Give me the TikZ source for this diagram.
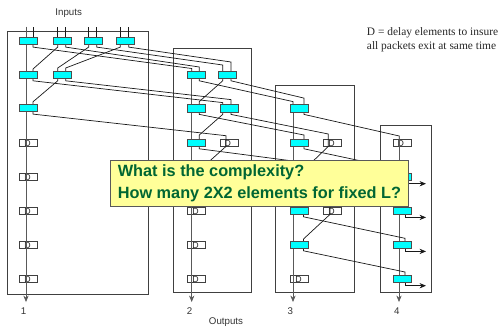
\documentclass[tikz,border=0pt]{standalone}
\usepackage{fontspec}
\setmainfont{Liberation Serif}
\setsansfont{Liberation Sans}
\usetikzlibrary{calc,arrows.meta}
\definecolor{cellcyan}{RGB}{0,255,255}
\definecolor{noteyellow}{RGB}{255,255,153}
\definecolor{notegreen}{RGB}{0,102,51}
\tikzset{
  frame line/.style={line width=0.65pt,black!75},
  trunk line/.style={line width=0.65pt,black!65},
  wire line/.style={line width=0.6pt,black!90},
  output arrow/.style={line width=0.6pt,-{Stealth[length=5.5pt,width=4.5pt]}},
  switch cell/.style={draw=black!70,fill=cellcyan,line width=0.65pt,minimum width=0.54cm,minimum height=0.22cm,inner sep=0pt},
  delay cell/.style={draw=black!75,line width=0.65pt,minimum width=0.54cm,minimum height=0.22cm,inner sep=0pt,
    label={[font=\sffamily\fontsize{7.5}{7.5}\selectfont,black!85,inner sep=0pt,xshift=-1pt,yshift=-0.6pt]center:D}},
  caption label/.style={font=\sffamily\fontsize{8.3}{9}\selectfont,black!80,inner sep=0pt},
  note label/.style={font=\rmfamily\fontsize{9.76}{12.2}\selectfont,black!85,inner sep=0pt,anchor=west,align=left},
  question note/.style={draw=black!65,fill=noteyellow,line width=0.8pt,anchor=west,align=left,
    minimum width=8.94cm,minimum height=1.38cm,inner xsep=5.8pt,inner ysep=0pt,text=notegreen,
    font=\sffamily\bfseries\fontsize{13.9}{18.7}\selectfont},
}
\newcommand{\drawCell}[6]{
\node[#1] (#2) at (#3,#4) {};
\coordinate (#2-tl) at (#5,#4-3.7);
\coordinate (#2-tr) at (#6,#4-3.7);
\coordinate (#2-bl) at (#5,#4+3.7);
\coordinate (#2-br) at (#6,#4+3.7);
}

\begin{document}
\begin{tikzpicture}[x=0.03cm,y=-0.03cm]
\useasboundingbox (0,0) rectangle (500,326);
\coordinate (input top) at (0,26.5);
\coordinate (trunk end) at (0,302);
\foreach \xa/\ya/\xb/\yb in {7.5/31/148/294, 173/48.3/251.7/292.7, 275.7/85.3/354.7/292.7, 380.3/125.3/431.3/292.7} {
  \draw[frame line] (\xa,\ya) rectangle (\xb,\yb);
}
\drawCell{switch cell}{e11}{28.7}{41}{26}{33}
\drawCell{switch cell}{e12}{62}{41}{57.7}{65.7}
\drawCell{switch cell}{e13}{93}{41}{88.7}{96.7}
\drawCell{switch cell}{e14}{125}{41}{120.3}{128.7}
\drawCell{switch cell}{e21}{28.7}{74.7}{26}{33}
\drawCell{switch cell}{e22}{62}{74.7}{57.7}{65.7}
\drawCell{switch cell}{e31}{28.7}{108}{26}{33}
\foreach \i/\y in {4/143, 5/177, 6/210.7, 7/244.7, 8/279} {
  \drawCell{delay cell}{e\i1}{28.7}{\y}{26}{33}
}
\drawCell{switch cell}{a1}{196.7}{74.7}{191.7}{199.3}
\drawCell{switch cell}{b1}{227}{74.7}{222.7}{231}
\drawCell{switch cell}{a2}{196.7}{108.3}{191.7}{199.3}
\drawCell{switch cell}{b2}{229}{108.3}{222.7}{231}
\drawCell{switch cell}{a3}{196.7}{142.7}{191.7}{199.3}
\drawCell{delay cell}{d2}{229}{142.7}{226}{226}
\drawCell{switch cell}{a4}{196.7}{177}{191.7}{199.3}
\foreach \i/\y in {5/210.7, 6/244.7, 7/279} {
  \drawCell{delay cell}{a\i}{196.7}{\y}{191.7}{199.3}
}
\drawCell{switch cell}{c1}{299.7}{108.3}{293}{304}
\drawCell{switch cell}{c2}{299.7}{142.7}{293}{304}
\drawCell{delay cell}{d3}{332.7}{142.7}{328.3}{328.3}
\drawCell{switch cell}{c3}{299.7}{177}{293}{303.5}
\drawCell{delay cell}{d5}{332.7}{177}{329}{329}
\drawCell{switch cell}{c4}{299.7}{210.7}{293}{303.5}
\drawCell{delay cell}{d6}{332.7}{210.7}{330}{330}
\drawCell{switch cell}{c5}{299.7}{244.7}{293}{303.5}
\drawCell{delay cell}{c6}{299.7}{279}{293}{303.5}
\drawCell{delay cell}{d4}{402}{142.7}{399}{399.3}
\foreach \i/\y in {2/177, 3/210.7, 4/244.7, 5/279} {
  \drawCell{switch cell}{f\i}{402}{\y}{399}{405}
}
\foreach \c in {e11,e12,e13,e14} {
  \draw[wire line] (\c-tr) -- (\c-tr |- input top);
}
\foreach \c in {e12,e13,e14} {
  \draw[wire line] (\c-tl) -- (\c-tl |- input top);
}
\draw[trunk line,output arrow] (e11-tl |- input top) -- (e11-tl |- trunk end);
\draw[trunk line,output arrow] (a1-tl) -- (a1-tl |- trunk end);
\draw[trunk line,output arrow] (c1-tl) -- (c1-tl |- trunk end);
\draw[trunk line,output arrow] (d4-tl) -- (d4-tl |- trunk end);
\foreach \a/\b/\s in {e11-br/a1-tl/2.5, e12-br/a1-tr/4, e13-br/b1-tl/6, e14-br/b1-tr/9,
  e12-bl/e21-tr/2, e13-bl/e22-tl/3, e14-bl/e22-tr/3, e22-bl/e31-tr/2.5,
  e21-br/b2-tl/2, e22-br/b2-tr/5, b1-bl/a2-tr/3, e31-br/d2-tr/3.3, b2-bl/a3-tr/4,
  a1-br/c1-tl/3, b1-br/c1-tr/6.5, a2-br/c2-tr/4, b2-br/d3-tr/5, c1-br/d4-tr/3,
  c2-br/f2-tr/3, a3-br/d5-tr/7.6, a4-br/d6-tr/4, c3-br/f3-tr/3, c4-br/f4-tr/2.7, c5-br/f5-tr/3.3} {
  \draw[wire line] (\a) -- ++(0,2.4) -- ($(\b)+(0,-\s)$) -- (\b);
}
\foreach \a/\b/\s in {d2/a4/3, d3/c3/3, d5/c4/3, d6/c5/2} {
  \draw[wire line] (\a-tr) -- (\a-br) -- ($(\b-tr)+(0,-\s)$) -- (\b-tr);
}
\foreach \c in {f2,f3,f4,f5} {
  \draw[wire line,output arrow] (\c-br) |- ($(\c-br)+(21,3)$);
}
\foreach \c in {e11,e12,e13,e14,e21,e22,e31,a1,b1,a2,b2,a3,a4,c1,c2,c3,c4,c5,f2,f3,f4,f5} {
  \node[switch cell] at (\c) {};
}
\node[caption label] (inputs label) at (68.7,12.7) {Inputs};
\node[caption label] (outputs label) at (226,322) {Outputs};
\foreach \n/\x in {1/23.7, 2/189.7, 3/290.3, 4/396.7} {
  \node[caption label] (output \n) at (\x,310.7) {\n};
}
\node[note label] (delay note) at (366.7,39.5) {D = delay elements to insure\\all packets exit at same time};
\node[question note] (question) at (110,183) {What is the complexity?\\How many 2X2 elements for fixed L?};
\end{tikzpicture}
\end{document}
